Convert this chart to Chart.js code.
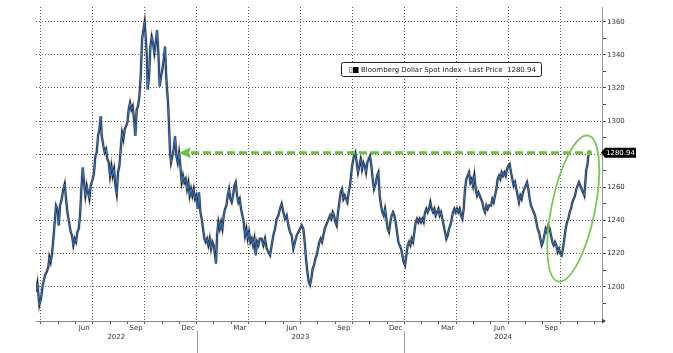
<!DOCTYPE html>
<html>
<head>
<meta charset="utf-8">
<script src="https://cdn.jsdelivr.net/npm/chart.js@4.4.1/dist/chart.umd.min.js"></script>
<style>
  html, body { margin: 0; padding: 0; background: #fff; }
  #wrap { width: 673px; height: 353px; }
</style>
</head>
<body>
<div id="wrap"><canvas id="chart" width="673" height="353"></canvas></div>
<script>
const SERIES_LABEL = 'Bloomberg Dollar Spot Index - Last Price';

// x = months since 1 Jan 2022 (3 = 1 Apr 2022, 12 = 1 Jan 2023 ...)
const monthPos = [
  2.723, 2.800, 2.915, 3.012, 3.108, 3.243, 3.339, 3.435, 3.493, 3.570,
  3.647, 3.724, 3.801, 3.878, 3.955, 4.032, 4.109, 4.205, 4.302, 4.379,
  4.456, 4.533, 4.629, 4.725, 4.802, 4.879, 4.956, 5.033, 5.110, 5.188,
  5.265, 5.342, 5.419, 5.496, 5.573, 5.650, 5.727, 5.804, 5.881, 5.996,
  6.073, 6.150, 6.227, 6.304, 6.381, 6.458, 6.516, 6.613, 6.690, 6.767,
  6.844, 6.921, 6.998, 7.075, 7.152, 7.229, 7.306, 7.383, 7.460, 7.537,
  7.614, 7.691, 7.768, 7.845, 7.922, 7.999, 8.076, 8.153, 8.230, 8.307,
  8.384, 8.461, 8.538, 8.615, 8.692, 8.769, 8.846, 8.923, 9.000,
  9.116, 9.174, 9.251, 9.328, 9.405, 9.482, 9.559, 9.636, 9.713, 9.790,
  9.867, 9.944, 10.021, 10.098, 10.175, 10.233, 10.291, 10.349, 10.407, 10.464,
  10.522, 10.599, 10.676, 10.753, 10.830, 10.907, 10.984, 11.061, 11.138, 11.215,
  11.292, 11.369, 11.446, 11.523, 11.600, 11.677, 11.754, 11.831, 11.909, 11.986,
  12.063, 12.140, 12.217, 12.294, 12.371, 12.448, 12.525, 12.602, 12.679, 12.756,
  12.833, 12.910, 12.987, 13.064, 13.122, 13.180, 13.257, 13.334, 13.411, 13.488,
  13.565, 13.642, 13.719, 13.796, 13.873, 13.950, 14.027, 14.104, 14.181, 14.258,
  14.335, 14.412, 14.489, 14.566, 14.643, 14.720, 14.797, 14.874, 14.951, 15.028,
  15.105, 15.182, 15.259, 15.336, 15.413, 15.490, 15.567, 15.644,
  15.759, 15.856, 15.952, 16.048, 16.144, 16.241, 16.337, 16.433, 16.530, 16.626,
  16.722, 16.818, 16.915, 17.011, 17.107, 17.204, 17.300, 17.396, 17.492, 17.589,
  17.685, 17.781, 17.878, 17.974, 18.070, 18.166, 18.243, 18.320, 18.398, 18.475,
  18.552, 18.629, 18.706, 18.783, 18.860, 18.937, 19.014, 19.091, 19.168, 19.245,
  19.322, 19.399, 19.476, 19.553, 19.630, 19.707, 19.784, 19.861, 19.938, 20.015,
  20.092, 20.169, 20.246, 20.323, 20.400, 20.477, 20.554, 20.631, 20.708, 20.785,
  20.862, 20.939, 21.016, 21.093, 21.170, 21.247, 21.325, 21.402, 21.479, 21.556,
  21.633, 21.710, 21.787, 21.864, 21.941, 22.018, 22.095, 22.172, 22.249,
  22.365, 22.423, 22.500, 22.577, 22.654, 22.731, 22.808, 22.885, 22.962, 23.039,
  23.116, 23.193, 23.270, 23.347, 23.424, 23.501, 23.578, 23.655, 23.732, 23.809,
  23.886, 23.963, 24.040, 24.117, 24.194, 24.271, 24.348, 24.425, 24.502, 24.579,
  24.656, 24.733, 24.810, 24.887, 24.964, 25.041, 25.118, 25.196, 25.273, 25.350,
  25.427, 25.504, 25.581, 25.658, 25.735, 25.812, 25.889, 25.966, 26.043, 26.120,
  26.197, 26.274, 26.351, 26.428, 26.505, 26.582, 26.659, 26.736, 26.813, 26.890,
  26.967, 27.044, 27.121, 27.198, 27.275, 27.352, 27.429, 27.506, 27.583, 27.660,
  27.737, 27.814, 27.891, 27.968, 28.045, 28.122, 28.199, 28.276, 28.353, 28.430,
  28.507, 28.585, 28.662, 28.739, 28.816, 28.893,
  29.008, 29.085, 29.162, 29.239, 29.316, 29.393, 29.470, 29.547, 29.624, 29.701,
  29.778, 29.855, 29.932, 30.009, 30.086, 30.163, 30.240, 30.317, 30.394, 30.471,
  30.548, 30.625, 30.702, 30.779, 30.856, 30.933, 31.011, 31.088, 31.165, 31.242,
  31.319, 31.396, 31.473, 31.550, 31.627, 31.704, 31.781, 31.858, 31.935, 32.012,
  32.089, 32.166, 32.243, 32.320, 32.397, 32.474, 32.551, 32.628, 32.705, 32.782,
  32.859, 32.936, 33.013, 33.090, 33.167, 33.244, 33.321, 33.398, 33.475, 33.552,
  33.629, 33.706, 33.783, 33.860, 33.937, 34.014, 34.091, 34.168, 34.245, 34.322,
  34.400, 34.457, 34.515, 34.573, 34.630, 34.688
];

const lastPrice = [
  1197, 1202, 1189, 1193, 1201, 1207, 1209, 1212, 1218, 1215,
  1220, 1229, 1239, 1249, 1247, 1237, 1249, 1253, 1259, 1262,
  1253, 1245, 1239, 1233, 1231, 1225, 1229, 1227, 1233, 1235,
  1243, 1259, 1272, 1263, 1255, 1261, 1257, 1253, 1261, 1265,
  1269, 1279, 1281, 1291, 1295, 1303, 1291, 1285, 1281, 1283,
  1277, 1275, 1267, 1273, 1267, 1271, 1261, 1256, 1269, 1273,
  1283, 1293, 1289, 1295, 1297, 1299, 1307, 1311, 1307, 1309,
  1301, 1291, 1307, 1309, 1315, 1327, 1349, 1355, 1360,
  1341, 1319, 1327, 1345, 1351, 1347, 1341, 1347, 1355, 1341,
  1321, 1327, 1331, 1337, 1345, 1329, 1319, 1311, 1297, 1281,
  1275, 1279, 1283, 1291, 1279, 1275, 1281, 1273, 1263, 1267,
  1263, 1265, 1259, 1263, 1255, 1259, 1255, 1259, 1253, 1255,
  1247, 1257, 1245, 1241, 1235, 1229, 1227, 1229, 1225, 1229,
  1223, 1227, 1225, 1219, 1214, 1231, 1239, 1235, 1239, 1235,
  1243, 1247, 1249, 1255, 1259, 1253, 1251, 1255, 1261, 1263,
  1255, 1251, 1253, 1247, 1243, 1239, 1231, 1235, 1229, 1233,
  1227, 1229, 1225, 1229, 1219, 1227, 1225, 1229,
  1229, 1225, 1229, 1223, 1221, 1219, 1225, 1231, 1235, 1241,
  1243, 1247, 1250, 1245, 1241, 1243, 1237, 1233, 1231, 1223,
  1227, 1231, 1233, 1235, 1237, 1235, 1227, 1217, 1209, 1203,
  1201, 1205, 1211, 1213, 1217, 1219, 1223, 1227, 1229, 1227,
  1231, 1235, 1237, 1239, 1241, 1243, 1241, 1245, 1243, 1239,
  1237, 1245, 1251, 1257, 1259, 1253, 1255, 1253, 1251, 1257,
  1261, 1269, 1275, 1279, 1281, 1275, 1269, 1273, 1277, 1271,
  1275, 1273, 1269, 1275, 1277, 1279, 1273, 1265, 1259,
  1263, 1267, 1269, 1255, 1249, 1245, 1243, 1247, 1241, 1235,
  1233, 1239, 1243, 1245, 1243, 1239, 1233, 1227, 1225, 1223,
  1219, 1215, 1213, 1219, 1225, 1227, 1225, 1229, 1227, 1233,
  1239, 1241, 1239, 1241, 1239, 1241, 1239, 1245, 1247, 1245,
  1247, 1251, 1247, 1245, 1247, 1243, 1245, 1247, 1243, 1245,
  1241, 1237, 1233, 1229, 1231, 1235, 1237, 1241, 1245, 1247,
  1245, 1247, 1245, 1247, 1243, 1241, 1247, 1259, 1265, 1267,
  1269, 1263, 1265, 1261, 1267, 1259, 1255, 1257, 1255, 1253,
  1251, 1247, 1245, 1249, 1247, 1249,
  1249, 1253, 1251, 1255, 1259, 1265, 1267, 1265, 1269, 1267,
  1269, 1267, 1271, 1273, 1274, 1269, 1265, 1261, 1263, 1259,
  1255, 1251, 1255, 1253, 1257, 1259, 1261, 1263, 1259, 1253,
  1249, 1247, 1245, 1243, 1239, 1235, 1233, 1229, 1225, 1227,
  1231, 1235, 1233, 1237, 1235, 1231, 1227, 1225, 1227, 1225,
  1221, 1223, 1220, 1219, 1223, 1229, 1235, 1239, 1241, 1245,
  1247, 1251, 1253, 1255, 1259, 1261, 1263, 1261, 1259, 1257,
  1255, 1263, 1271, 1273, 1279, 1280.94
];

// axis labels
const monthLabels = ['Jun', 'Sep', 'Dec', 'Mar', 'Jun', 'Sep', 'Dec', 'Mar', 'Jun', 'Sep'];
const monthLabelPos = [5.5, 8.5, 11.5, 14.5, 17.5, 20.5, 23.5, 26.5, 29.5, 32.5];
const yearLabels = ['2022', '2023', '2024'];
const yTickValues = [1180, 1190, 1200, 1210, 1220, 1230, 1240, 1250, 1260, 1270, 1280,
  1290, 1300, 1310, 1320, 1330, 1340, 1350, 1360];

const X_MIN = 2.72, X_MAX = 35.42;
const Y_MIN = 1179.3, Y_MAX = 1368.9;
const FONT = '"DejaVu Sans", Verdana, sans-serif';
const GRID = 'rgba(60, 60, 60, 0.85)';
const GREEN = '#67c43d';

// each dataset needs its own array (chart.js hooks into the array it gets)
const seriesPoints = () => monthPos.map((m, i) => ({ x: m, y: lastPrice[i] }));

// x ticks: month boundaries (tick marks) + mid-month label slots
const xTickValues = [];
for (let m = Math.ceil(X_MIN); m <= X_MAX; m++) xTickValues.push(m);
monthLabelPos.forEach(p => xTickValues.push(p));
xTickValues.sort((a, b) => a - b);

const overlayPlugin = {
    id: 'overlay',
    afterDatasetsDraw(chart) {
        const { ctx, scales: { x, y } } = chart;
        const lastX = monthPos[monthPos.length - 1];
        const lastY = lastPrice[lastPrice.length - 1];
        const yPx = y.getPixelForValue(lastY);
        const x0 = x.getPixelForValue(10.98);
        const x1 = x.getPixelForValue(lastX);

        // dashed arrow back to the Nov 2022 level
        ctx.save();
        ctx.strokeStyle = GREEN;
        ctx.lineWidth = 3;
        ctx.setLineDash([8, 4]);
        ctx.beginPath();
        ctx.moveTo(x0 + 12, yPx);
        ctx.lineTo(x1, yPx);
        ctx.stroke();
        ctx.setLineDash([]);
        ctx.fillStyle = GREEN;
        ctx.beginPath();
        ctx.moveTo(x0, yPx);
        ctx.lineTo(x0 + 12, yPx - 5.5);
        ctx.lineTo(x0 + 10, yPx);
        ctx.lineTo(x0 + 12, yPx + 5.5);
        ctx.closePath();
        ctx.fill();
        ctx.beginPath();
        ctx.arc(x1, yPx, 2.6, 0, 2 * Math.PI);
        ctx.fill();

        // ellipse round the latest rally
        const cx = x.getPixelForValue(33.76);
        const cy = y.getPixelForValue(1247.2);
        ctx.strokeStyle = '#78c852';
        ctx.lineWidth = 1.8;
        ctx.beginPath();
        ctx.ellipse(cx, cy, 21.7, 74.4, 0.2025, 0, 2 * Math.PI);
        ctx.stroke();
        ctx.restore();
    },
    afterDraw(chart) {
        const { ctx, scales: { x, y } } = chart;
        const lastY = lastPrice[lastPrice.length - 1];
        const yPx = y.getPixelForValue(lastY);

        ctx.save();
        // legend box
        ctx.fillStyle = '#fff';
        ctx.strokeStyle = '#222';
        ctx.lineWidth = 1;
        ctx.beginPath();
        ctx.roundRect(341.5, 62.5, 200, 14, 2);
        ctx.fill();
        ctx.stroke();
        ctx.strokeStyle = '#999';
        ctx.strokeRect(349.5, 67.5, 2.5, 5);
        ctx.fillStyle = '#000';
        ctx.fillRect(353, 67, 5.5, 6);
        ctx.fillStyle = '#222';
        ctx.font = '7px ' + FONT;
        ctx.textAlign = 'left';
        ctx.textBaseline = 'middle';
        ctx.fillText(SERIES_LABEL + '  ' + lastY.toFixed(2), 361, 70);

        // last price badge on the axis
        const bx = y.left - 1;
        ctx.fillStyle = '#000';
        ctx.beginPath();
        ctx.moveTo(bx, yPx);
        ctx.lineTo(bx + 4, yPx - 5);
        ctx.lineTo(bx + 35, yPx - 5);
        ctx.lineTo(bx + 35, yPx + 5);
        ctx.lineTo(bx + 4, yPx + 5);
        ctx.closePath();
        ctx.fill();
        ctx.fillStyle = '#fff';
        ctx.fillText(lastY.toFixed(2), bx + 5, yPx + 0.5);

        // year row and separators
        ctx.fillStyle = '#333';
        ctx.textAlign = 'center';
        yearLabels.forEach((lab, k) => {
            const s = Math.max(x.min, 12 * k), e = Math.min(x.max, 12 * (k + 1));
            const px = (x.getPixelForValue(s) + x.getPixelForValue(e)) / 2;
            ctx.fillText(lab, px, 337);
            if (k > 0) {
                const sx = Math.round(x.getPixelForValue(12 * k)) + 0.5;
                ctx.strokeStyle = '#999';
                ctx.beginPath();
                ctx.moveTo(sx, 331);
                ctx.lineTo(sx, 353);
                ctx.stroke();
            }
        });

        // arrow tip at end of the time axis
        ctx.fillStyle = '#444';
        ctx.beginPath();
        ctx.moveTo(x.right, x.top - 2.5);
        ctx.lineTo(x.right + 4, x.top);
        ctx.lineTo(x.right, x.top + 2.5);
        ctx.closePath();
        ctx.fill();
        ctx.restore();
    }
};

// chart.js paints dataset 0 last, so the blue close line comes first
new Chart(document.getElementById('chart').getContext('2d'), {
    type: 'line',
    data: {
        datasets: [{
            label: SERIES_LABEL,
            data: seriesPoints(),
            borderColor: '#2f78d2',
            borderWidth: 1,
            pointRadius: 0,
            tension: 0
        }, {
            label: SERIES_LABEL,
            data: seriesPoints(),
            borderColor: '#1c1c1c',
            borderWidth: 1.9,
            pointRadius: 0,
            tension: 0
        }, {
            // grey wick layer
            label: SERIES_LABEL,
            data: seriesPoints(),
            borderColor: '#bcbcbc',
            borderWidth: 3,
            pointRadius: 0,
            tension: 0
        }]
    },
    options: {
        responsive: false,
        animation: false,
        layout: { padding: { left: 36, top: 7, right: 0, bottom: 0 } },
        plugins: {
            legend: { display: false },
            tooltip: { enabled: false }
        },
        scales: {
            x: {
                type: 'linear',
                min: X_MIN,
                max: X_MAX,
                afterBuildTicks: (s) => { s.ticks = xTickValues.map(v => ({ value: v })); },
                afterFit: (s) => { s.height = 32; },
                grid: {
                    color: (c) => (c.tick && c.tick.value % 3 === 0) ? GRID : 'transparent',
                    tickColor: (c) => (c.tick && Number.isInteger(c.tick.value)) ? '#555' : 'transparent',
                    tickLength: 3,
                    lineWidth: 1
                },
                border: { color: '#888', dash: [1, 2] },
                ticks: {
                    autoSkip: false,
                    maxRotation: 0,
                    padding: 0,
                    color: '#333',
                    font: { family: FONT, size: 7 },
                    callback: (v) => {
                        const i = monthLabelPos.indexOf(v);
                        return i >= 0 ? monthLabels[i] : '';
                    }
                }
            },
            y: {
                position: 'right',
                min: Y_MIN,
                max: Y_MAX,
                afterBuildTicks: (s) => { s.ticks = yTickValues.map(v => ({ value: v })); },
                afterFit: (s) => { s.width = 71; },
                grid: {
                    color: (c) => (c.tick && c.tick.value % 20 === 0 && c.tick.value >= 1200) ? GRID : 'transparent',
                    tickColor: (c) => (c.tick && c.tick.value >= 1190) ? '#444' : 'transparent',
                    tickLength: 4,
                    lineWidth: 1
                },
                border: { color: '#9a9a9a', dash: [1, 2] },
                ticks: {
                    padding: 1,
                    color: '#333',
                    font: { family: FONT, size: 7 },
                    callback: (v) => (v % 20 === 0 && v >= 1200) ? String(v) : ''
                }
            }
        }
    },
    plugins: [overlayPlugin]
});
</script>
</body>
</html>
